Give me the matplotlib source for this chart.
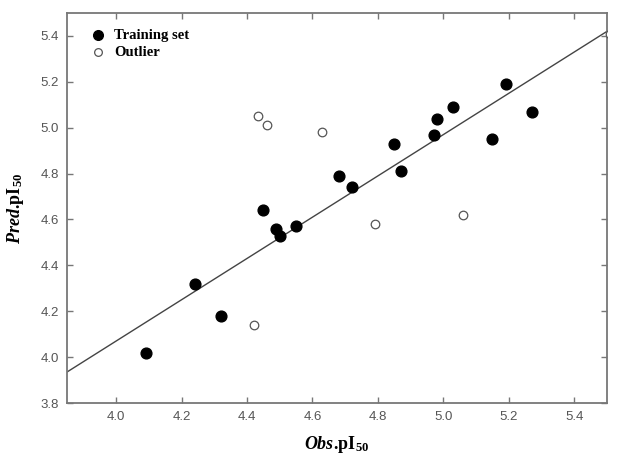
import numpy as np
import matplotlib
matplotlib.use('Agg')
import matplotlib.pyplot as plt

# training set (obs, pred)
train_obs = [4.09, 4.24, 4.32, 4.45, 4.49, 4.50, 4.55, 4.68, 4.72, 4.85, 4.87,
             4.97, 4.98, 5.03, 5.15, 5.19, 5.27]
train_pred = [4.02, 4.32, 4.18, 4.64, 4.56, 4.53, 4.57, 4.79, 4.74, 4.93, 4.81,
              4.97, 5.04, 5.09, 4.95, 5.19, 5.07]

# outliers
out_obs = [4.42, 4.435, 4.46, 4.63, 4.79, 5.06, 5.51]
out_pred = [4.14, 5.05, 5.01, 4.98, 4.58, 4.62, 5.41]

# fitted line
slope = 0.9
intercept = 0.47

xticks = [4.0, 4.2, 4.4, 4.6, 4.8, 5.0, 5.2, 5.4]
yticks = [3.8, 4.0, 4.2, 4.4, 4.6, 4.8, 5.0, 5.2, 5.4]

plt.rcParams['mathtext.fontset'] = 'custom'
plt.rcParams['mathtext.rm'] = 'Liberation Serif:bold'
plt.rcParams['mathtext.bf'] = 'Liberation Serif:bold'
plt.rcParams['mathtext.it'] = 'Liberation Serif:italic:bold'

fig = plt.figure(figsize=(6.17, 4.62), dpi=100)
ax = fig.add_axes([67/617, 1 - 403/462, 540/617, 390/462])

xs = np.array([3.85, 5.5])
ax.plot(xs, slope * xs + intercept, color='#444444', lw=1.0, zorder=1)

ax.scatter(train_obs, train_pred, s=60, color='black', zorder=3, label='Training set')
ax.scatter(out_obs, out_pred, s=38, facecolor='white', edgecolor='#555555',
           linewidth=0.9, zorder=3, label='Outlier')

ax.set_xlim(3.85, 5.5)
ax.set_ylim(3.8, 5.5)
ax.set_xticks(xticks)
ax.set_yticks(yticks)
ax.set_xticklabels(['%.1f' % v for v in xticks])
ax.set_yticklabels(['%.1f' % v for v in yticks])
ax.tick_params(direction='in', top=True, right=True, length=4, width=1,
               color='#777777', labelcolor='#555555', labelsize=9.5, pad=6)
for lab in ax.get_xticklabels() + ax.get_yticklabels():
    lab.set_family('Liberation Sans')
for sp in ax.spines.values():
    sp.set_color('#777777')
    sp.set_linewidth(1.3)

ax.set_xlabel(r'$\mathit{Obs}\mathrm{.}\!\mathrm{pI}_{50}$', fontsize=13, labelpad=8)
ax.set_ylabel(r'$\mathit{Pred}\mathrm{.}\!\mathrm{pI}_{50}$', fontsize=13, labelpad=10)

ax.legend(loc='upper left', bbox_to_anchor=(0.012, 0.985), frameon=False,
          prop={'family': 'Liberation Serif', 'weight': 'bold', 'size': 10.5},
          handletextpad=0.1, labelspacing=0.22, borderaxespad=0.3,
          markerscale=0.9)

fig.savefig('out.png', dpi=100)
